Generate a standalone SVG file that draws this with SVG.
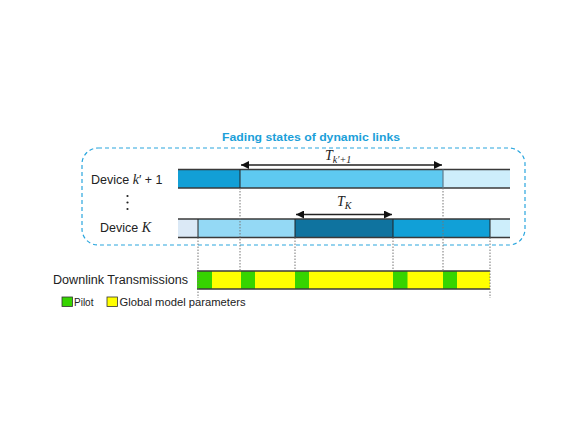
<svg xmlns="http://www.w3.org/2000/svg" width="581" height="440" viewBox="0 0 581 440">
<defs>
<marker id="ah" viewBox="0 0 10 10" refX="10" refY="5" markerWidth="8" markerHeight="8" markerUnits="userSpaceOnUse" orient="auto-start-reverse">
<path d="M0,0 L10,5 L0,10 z" fill="#111"/>
</marker>
<style>
.lbl{font-family:"Liberation Sans",Arial,sans-serif;fill:#222;}
.math{font-family:"Liberation Serif","Times New Roman",serif;font-style:italic;fill:#222;}
.edge{stroke:#3a3a3a;stroke-width:1.3;}
.div{stroke:#222;stroke-width:1;}
.dot{stroke:#777;stroke-width:1;stroke-dasharray:1.5 1.5;fill:none;}
.arr{stroke:#222;stroke-width:1.3;fill:none;}
</style>
</defs>
<rect width="581" height="440" fill="#fff"/>

<g id="fading-box">
<rect x="82" y="148" width="443" height="97" rx="16" ry="16" fill="none" stroke="#2aa6de" stroke-width="1.2" stroke-dasharray="4 3"/>
<text x="311" y="141" text-anchor="middle" font-family="Liberation Sans,Arial,sans-serif" font-weight="bold" font-size="11" fill="#1c9fd9" textLength="178" lengthAdjust="spacingAndGlyphs">Fading states of dynamic links</text>
</g>

<g id="device-k1">
<rect x="178" y="169.5" width="62" height="18.5" fill="#129fd6"/>
<rect x="240" y="169.5" width="203" height="18.5" fill="#5ec9f1"/>
<rect x="443" y="169.5" width="67" height="18.5" fill="#cdeefb"/>
<line class="edge" x1="178" y1="169.5" x2="510" y2="169.5"/>
<line class="edge" x1="178" y1="188" x2="510" y2="188"/>
<line class="div" x1="240" y1="169.5" x2="240" y2="188"/>
<line x1="443" y1="169.5" x2="443" y2="188" stroke="#5f7b8c" stroke-width="1.2"/>
<text class="lbl" x="91" y="184" font-size="12.5">Device <tspan class="math" font-size="14">k</tspan>′ + 1</text>
</g>

<g id="ellipsis">
<circle cx="127.5" cy="196" r="1.1" fill="#222"/>
<circle cx="127.5" cy="202.5" r="1.1" fill="#222"/>
<circle cx="127.5" cy="209" r="1.1" fill="#222"/>
</g>

<g id="device-K">
<rect x="178" y="219" width="20" height="18.5" fill="#dbe9f6"/>
<rect x="198" y="219" width="97" height="18.5" fill="#94d9f5"/>
<rect x="295" y="219" width="98" height="18.5" fill="#0f739f"/>
<rect x="393" y="219" width="97" height="18.5" fill="#11a0d7"/>
<rect x="490" y="219" width="20" height="18.5" fill="#cdeefb"/>
<line class="edge" x1="178" y1="219" x2="510" y2="219"/>
<line class="edge" x1="178" y1="237.5" x2="510" y2="237.5"/>
<line class="div" x1="198" y1="219" x2="198" y2="237.5"/>
<line class="div" x1="295" y1="219" x2="295" y2="237.5"/>
<line class="div" x1="393" y1="219" x2="393" y2="237.5"/>
<line class="div" x1="490" y1="219" x2="490" y2="237.5"/>
<text class="lbl" x="100" y="232" font-size="12.5">Device <tspan class="math" font-size="14">K</tspan></text>
</g>

<g id="downlink">
<rect x="197" y="271" width="293" height="18" fill="#ffff00"/>
<rect x="197" y="271" width="15" height="18" fill="#36d400"/>
<rect x="241" y="271" width="14" height="18" fill="#36d400"/>
<rect x="295" y="271" width="14" height="18" fill="#36d400"/>
<rect x="393" y="271" width="14.5" height="18" fill="#36d400"/>
<rect x="443" y="271" width="14" height="18" fill="#36d400"/>
<line class="edge" x1="197" y1="271" x2="490" y2="271"/>
<line class="edge" x1="197" y1="289" x2="490" y2="289"/>
<text class="lbl" x="53" y="283.5" font-size="12" textLength="135" lengthAdjust="spacingAndGlyphs">Downlink Transmissions</text>
</g>

<g id="legend">
<rect x="62" y="297" width="10.5" height="9.5" fill="#36d400" stroke="#333" stroke-width="0.8"/>
<text class="lbl" x="74" y="305.5" font-size="10">Pilot</text>
<rect x="107" y="297" width="10.5" height="9.5" fill="#ffff00" stroke="#333" stroke-width="0.8"/>
<text class="lbl" x="119.5" y="305.5" font-size="10" textLength="126" lengthAdjust="spacingAndGlyphs">Global model parameters</text>
</g>

<g id="connectors">
<line class="dot" x1="198" y1="237.5" x2="198" y2="298"/>
<line class="dot" x1="240" y1="188" x2="240" y2="271"/>
<line class="dot" x1="295" y1="237.5" x2="295" y2="271"/>
<line class="dot" x1="393" y1="237.5" x2="393" y2="271"/>
<line class="dot" x1="443" y1="188" x2="443" y2="271"/>
<line class="dot" x1="490" y1="237.5" x2="490" y2="298"/>
<line class="arr" x1="241" y1="165" x2="442" y2="165" marker-start="url(#ah)" marker-end="url(#ah)"/>
<line class="arr" x1="296" y1="214.5" x2="392" y2="214.5" marker-start="url(#ah)" marker-end="url(#ah)"/>
<text class="math" x="325" y="160" font-size="14">T<tspan font-size="10" dy="3">k′+1</tspan></text>
<text class="math" x="337" y="206" font-size="14">T<tspan font-size="10" dy="3">K</tspan></text>
</g>
</svg>
